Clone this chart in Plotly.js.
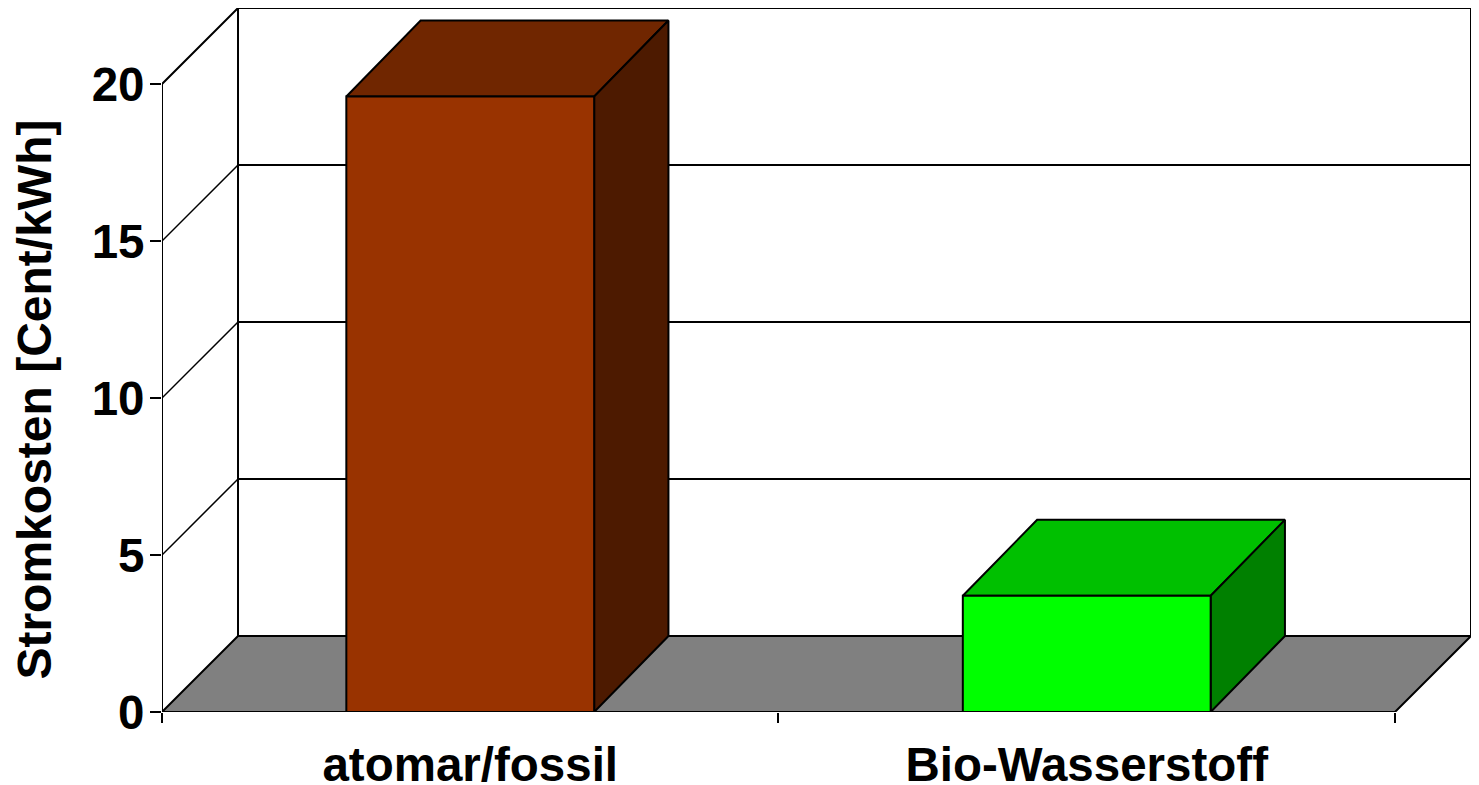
<!DOCTYPE html>
<html>
<head>
<meta charset="utf-8">
<script src="https://cdn.plot.ly/plotly-3.0.1.min.js"></script>
<style>html,body{margin:0;padding:0;background:#fff;overflow:hidden}#chart{width:1479px;height:785px}</style>
</head>
<body>
<div id="chart"></div>
<script>
const categories = ["atomar/fossil", "Bio-Wasserstoff"];
const values = [19.6, 3.7];
const frontColors = ["#993300", "#00FF00"];
const topColors = ["#702600", "#00C000"];
const sideColors = ["#4D1A00", "#008000"];
const yTicks = [0, 5, 10, 15, 20];
const yTitle = "Stromkosten [Cent/kWh]";

const dx = 0.1233, dy = 2.42, barDx = 0.1205, barW = 0.402, n = categories.length, yMax = 20;
const FONT = {family: "Liberation Sans, Arial, sans-serif", size: 47.5, color: "#000"};

function poly(xs, ys, fill, lw) {
  return {type: "scatter", mode: "lines", x: xs, y: ys, fill: fill ? "toself" : "none",
    fillcolor: fill || undefined, line: {color: "#000", width: lw || 2}, cliponaxis: false,
    hoverinfo: "skip", showlegend: false};
}
const traces = [];
// floor
traces.push(poly([0, n, n + dx, dx, 0], [0, 0, dy, dy, 0], "#808080"));
// back wall and side wall
traces.push(poly([0, 0, dx, n + dx, n + dx], [0, yMax, yMax + dy, yMax + dy, dy], null));
traces.push(poly([dx, dx], [dy, yMax + dy], null));
// gridlines on the walls
yTicks.slice(1, -1).forEach(v => {
  traces.push(poly([0, dx], [v, v + dy], null, 1.5));
  traces.push(poly([dx, n + dx], [v + dy, v + dy], null, 2));
});
// bars
categories.forEach((c, i) => {
  const a = i + 0.5 - barW / 2, b = i + 0.5 + barW / 2, v = values[i];
  traces.push(poly([a, b, b + barDx, a + barDx, a], [v, v, v + dy, v + dy, v], topColors[i]));
  traces.push(poly([b, b + barDx, b + barDx, b, b], [0, dy, v + dy, v, 0], sideColors[i]));
  traces.push(poly([a, b, b, a, a], [0, 0, v, v, 0], frontColors[i]));
});
// front baseline
traces.push(poly([0, n], [0, 0], null));

const layout = {
  width: 1479, height: 785, showlegend: false, hovermode: false,
  paper_bgcolor: "#fff", plot_bgcolor: "#fff",
  margin: {l: 162, r: 8, t: 8, b: 73, pad: 0},
  font: FONT,
  xaxis: {range: [0, n + dx], fixedrange: true, showgrid: false, zeroline: false, showline: false,
    tickmode: "array", tickvals: categories.map((c, i) => i + 0.5),
    ticktext: categories.map(c => "<b>" + c + "</b>"),
    ticks: "outside", ticklen: 0, tickwidth: 0, tickangle: 0, ticklabelstandoff: 11,
    tickfont: FONT,
    minor: {tickmode: "array", tickvals: Array.from({length: n + 1}, (_, i) => i), ticks: "outside",
      ticklen: 10, tickwidth: 2, tickcolor: "#000", showgrid: false}},
  yaxis: {range: [0, yMax + dy], fixedrange: true, showgrid: false, zeroline: false, showline: false,
    tickmode: "array", tickvals: yTicks, ticktext: yTicks.map(v => "<b>" + v + "</b>"),
    ticks: "outside", ticklen: 11, tickwidth: 2, tickcolor: "#000", ticklabelstandoff: -4,
    tickfont: FONT},
  annotations: [{text: "<b>" + yTitle + "</b>", textangle: -90, xref: "paper", x: 0, xanchor: "center",
    xshift: -127, yref: "y", y: 9.95, yanchor: "middle", showarrow: false,
    font: {family: FONT.family, size: 48, color: "#000"}}]
};
Plotly.newPlot("chart", traces, layout, {staticPlot: true, displayModeBar: false});
</script>
</body>
</html>
